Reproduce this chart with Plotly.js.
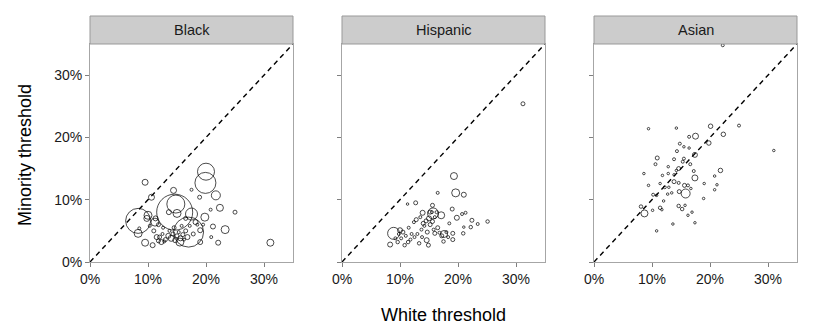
<!DOCTYPE html>
<html>
<head>
<meta charset="utf-8">
<script src="https://cdn.plot.ly/plotly-3.0.1.min.js"></script>
<style>
  html, body { margin: 0; padding: 0; background: #fff; }
  #chart { width: 830px; height: 332px; }
</style>
</head>
<body>
<div id="chart"></div>
<script>
// ── Data: [white threshold, minority threshold, marker diameter px] ─────────
const panels = ["Black", "Hispanic", "Asian"];

const blackX = [0.200, 0.199, 0.146, 0.170, 0.083, 0.148, 0.095, 0.106, 0.144, 0.217,
  0.189, 0.175, 0.224, 0.250, 0.208, 0.198, 0.175, 0.100, 0.112, 0.136,
  0.150, 0.083, 0.095, 0.108, 0.123, 0.155, 0.190, 0.221, 0.233, 0.212,
  0.209, 0.190, 0.311, 0.085, 0.115, 0.182, 0.165, 0.118, 0.110, 0.120,
  0.125, 0.130, 0.135, 0.140, 0.143, 0.147, 0.150, 0.153, 0.156, 0.160,
  0.162, 0.165, 0.168, 0.172, 0.178, 0.137, 0.128, 0.118, 0.145, 0.158,
  0.185, 0.103, 0.098, 0.113, 0.126, 0.195];
const blackY = [0.145, 0.127, 0.080, 0.048, 0.066, 0.093, 0.128, 0.104, 0.115, 0.107,
  0.104, 0.116, 0.087, 0.080, 0.084, 0.072, 0.077, 0.075, 0.064, 0.080,
  0.078, 0.046, 0.031, 0.027, 0.032, 0.032, 0.032, 0.031, 0.052, 0.057,
  0.040, 0.051, 0.031, 0.054, 0.040, 0.064, 0.070, 0.060, 0.050, 0.040,
  0.045, 0.036, 0.042, 0.038, 0.045, 0.035, 0.042, 0.048, 0.038, 0.044,
  0.036, 0.050, 0.040, 0.058, 0.045, 0.050, 0.033, 0.034, 0.055, 0.058,
  0.060, 0.058, 0.070, 0.070, 0.055, 0.060];
const blackS = [17, 21, 36, 30, 25, 18, 6, 6, 6, 9,
  4, 3, 7, 4, 3, 8, 12, 8, 8, 5,
  8, 8, 7, 5, 5, 8, 5, 5, 8, 5,
  3, 5, 7, 3, 5, 5, 4, 4, 4, 4,
  3, 4, 5, 6, 4, 5, 4, 3, 5, 4,
  3, 4, 5, 3, 4, 3, 3, 4, 4, 3,
  3, 3, 6, 5, 3, 3];

const hispX = [0.312, 0.193, 0.196, 0.210, 0.165, 0.127, 0.113, 0.156, 0.190, 0.139,
  0.155, 0.171, 0.207, 0.213, 0.198, 0.224, 0.251, 0.234, 0.222, 0.210,
  0.209, 0.191, 0.191, 0.175, 0.089, 0.100, 0.083, 0.096, 0.108, 0.114,
  0.133, 0.146, 0.149, 0.176, 0.160, 0.124, 0.115, 0.140, 0.145, 0.150,
  0.152, 0.156, 0.160, 0.142, 0.137, 0.147, 0.158, 0.165, 0.168, 0.172,
  0.180, 0.183, 0.130, 0.120, 0.105, 0.102, 0.110, 0.118, 0.125, 0.138,
  0.163, 0.135, 0.128, 0.152, 0.185, 0.092, 0.098, 0.157];
const hispY = [0.254, 0.138, 0.111, 0.108, 0.111, 0.095, 0.093, 0.091, 0.085, 0.079,
  0.080, 0.075, 0.077, 0.079, 0.071, 0.067, 0.065, 0.061, 0.056, 0.056,
  0.046, 0.046, 0.036, 0.033, 0.046, 0.051, 0.028, 0.032, 0.027, 0.032,
  0.030, 0.035, 0.027, 0.045, 0.046, 0.064, 0.055, 0.062, 0.066, 0.070,
  0.060, 0.065, 0.072, 0.058, 0.052, 0.048, 0.052, 0.055, 0.047, 0.042,
  0.048, 0.040, 0.045, 0.045, 0.048, 0.038, 0.042, 0.036, 0.040, 0.040,
  0.080, 0.072, 0.068, 0.080, 0.062, 0.038, 0.045, 0.078];
const hispS = [4, 7, 8, 5, 3, 4, 2.5, 4, 4, 5,
  3, 7, 3, 3, 5, 4, 3.5, 3, 3.5, 2.5,
  3.5, 4, 4, 3.5, 12, 5, 5, 3.5, 3.5, 3.5,
  3.5, 5, 4, 7, 4, 3, 3, 4, 4, 5,
  4, 4, 3, 3, 3, 4, 3, 4, 3, 4,
  3, 3, 3, 3, 4, 3, 3, 3, 3, 3,
  3, 3, 4, 4, 3, 3, 3, 11];

const asianX = [0.222, 0.094, 0.142, 0.175, 0.201, 0.250, 0.223, 0.164, 0.198, 0.310,
  0.148, 0.155, 0.164, 0.143, 0.174, 0.109, 0.138, 0.155, 0.106, 0.128,
  0.146, 0.153, 0.166, 0.172, 0.218, 0.208, 0.086, 0.118, 0.138, 0.174,
  0.142, 0.094, 0.114, 0.122, 0.129, 0.138, 0.146, 0.156, 0.162, 0.167,
  0.190, 0.212, 0.208, 0.158, 0.147, 0.134, 0.127, 0.102, 0.108, 0.120,
  0.189, 0.081, 0.087, 0.101, 0.114, 0.117, 0.146, 0.152, 0.157, 0.169,
  0.162, 0.174, 0.136, 0.108, 0.128];
const asianY = [0.348, 0.214, 0.215, 0.202, 0.218, 0.219, 0.205, 0.201, 0.191, 0.179,
  0.190, 0.185, 0.183, 0.178, 0.172, 0.167, 0.165, 0.166, 0.157, 0.153,
  0.150, 0.161, 0.157, 0.146, 0.147, 0.138, 0.142, 0.139, 0.140, 0.135,
  0.147, 0.123, 0.126, 0.120, 0.120, 0.129, 0.127, 0.123, 0.123, 0.118,
  0.126, 0.124, 0.116, 0.110, 0.113, 0.111, 0.109, 0.108, 0.107, 0.098,
  0.102, 0.089, 0.078, 0.083, 0.087, 0.084, 0.090, 0.085, 0.091, 0.080,
  0.075, 0.063, 0.061, 0.050, 0.142];
const asianS = [3, 2.5, 2.5, 6, 4.5, 3, 4.5, 3, 4.5, 2.5,
  3, 2.5, 2.5, 3, 5, 4, 3, 3, 3, 2.5,
  4, 3, 3, 3, 4.5, 2.5, 2.5, 2.5, 2.5, 6,
  2.5, 2.5, 2.5, 3, 2.5, 4, 3, 4, 3, 2.5,
  2.5, 2.5, 2.5, 9, 4, 2.5, 2.5, 3, 2.5, 2.5,
  2.5, 3.5, 7, 2.5, 3.5, 2.5, 3.5, 3.5, 2.5, 2.5,
  2.5, 2.5, 2.5, 2.5, 2.5];

const axisRange = [0, 0.35];
const tickVals = [0, 0.1, 0.2, 0.3];
const tickText = ["0%", "10%", "20%", "30%"];

// ── Layout geometry (pixels in an 830x332 figure) ───────────────────────────
const W = 830, H = 332;
const panelLeft = [90, 342, 594], panelW = 203;
const plotTop = 44, plotBot = 262, stripTop = 16;

const FONT = "Liberation Sans, Arial, Helvetica, sans-serif";
const series = [[blackX, blackY, blackS], [hispX, hispY, hispS], [asianX, asianY, asianS]];

const traces = [];
const layout = {
  width: W, height: H,
  margin: { l: 0, r: 0, t: 0, b: 0 },
  paper_bgcolor: "#fff", plot_bgcolor: "#fff",
  showlegend: false,
  font: { family: FONT, color: "#1a1a1a", size: 14 },
  shapes: [], annotations: [],
};

series.forEach(([xs, ys, ss], i) => {
  const n = i === 0 ? "" : String(i + 1);
  // diagonal reference line y = x
  traces.push({
    x: axisRange, y: axisRange, xaxis: "x" + n, yaxis: "y" + n,
    mode: "lines", hoverinfo: "skip",
    line: { color: "#000", width: 1.4, dash: "5px,4px" },
  });
  traces.push({
    x: xs, y: ys, xaxis: "x" + n, yaxis: "y" + n,
    mode: "markers", type: "scatter", cliponaxis: true,
    marker: { symbol: "circle-open", size: ss, color: "#000",
              line: { color: "#000", width: 1 } },
  });

  const x0 = panelLeft[i] / W, x1 = (panelLeft[i] + panelW) / W;
  const common = {
    range: axisRange, tickvals: tickVals, ticktext: tickText,
    showgrid: false, zeroline: false, showline: true, mirror: true,
    linecolor: "#a6a6a6", linewidth: 1,
    ticks: "outside", ticklen: 4, tickcolor: "#7f7f7f", tickwidth: 1,
    tickfont: { family: FONT, size: 14, color: "#1a1a1a" },
    fixedrange: true,
  };
  layout["xaxis" + n] = Object.assign({}, common, {
    domain: [x0, x1], anchor: "y" + n,
  });
  layout["yaxis" + n] = Object.assign({}, common, {
    domain: [1 - plotBot / H, 1 - plotTop / H], anchor: "x" + n,
    showticklabels: i === 0,
  });

  // facet strip
  layout.shapes.push({
    type: "rect", xref: "paper", yref: "paper",
    x0: x0, x1: x1, y0: 1 - plotTop / H, y1: 1 - stripTop / H,
    fillcolor: "#cccccc", line: { color: "#999999", width: 1 }, layer: "above",
  });
  layout.annotations.push({
    text: panels[i], xref: "paper", yref: "paper",
    x: (x0 + x1) / 2, y: 1 - (plotTop + stripTop) / 2 / H,
    showarrow: false, xanchor: "center", yanchor: "middle",
    font: { family: FONT, size: 14.5, color: "#1a1a1a" },
  });
});

layout.annotations.push({
  text: "White threshold", xref: "paper", yref: "paper",
  x: 443 / W, y: 1 - 315 / H, showarrow: false,
  xanchor: "center", yanchor: "middle",
  font: { family: FONT, size: 18, color: "#000" },
});
layout.annotations.push({
  text: "Minority threshold", xref: "paper", yref: "paper",
  x: 25 / W, y: 1 - 155 / H, showarrow: false, textangle: -90,
  xanchor: "center", yanchor: "middle",
  font: { family: FONT, size: 18, color: "#000" },
});

Plotly.newPlot("chart", traces, layout, { displayModeBar: false, staticPlot: true });
</script>
</body>
</html>
